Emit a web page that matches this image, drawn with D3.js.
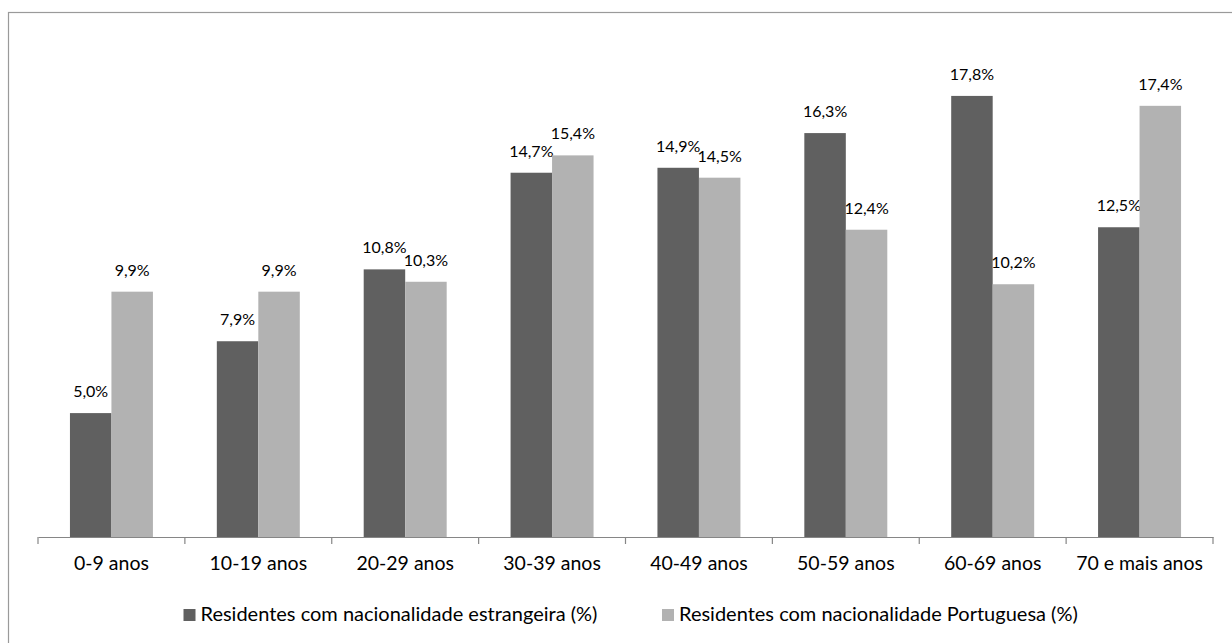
<!DOCTYPE html>
<html>
<head>
<meta charset="utf-8">
<script src="https://cdn.jsdelivr.net/npm/d3@7"></script>
<style>
  html, body { margin: 0; padding: 0; background: #fff; }
  svg { display: block; }
  text { font-family: Lato, "Open Sans", sans-serif; fill: #000; }
</style>
</head>
<body>
<svg id="chart" width="1232" height="643"></svg>
<script>
// Age groups and the share of residents in each group, by nationality
const categories = ["0-9 anos", "10-19 anos", "20-29 anos", "30-39 anos",
                    "40-49 anos", "50-59 anos", "60-69 anos", "70 e mais anos"];
const seriesNames = ["Residentes com nacionalidade estrangeira (%)",
                     "Residentes com nacionalidade Portuguesa (%)"];
const estrangeira = [5.0, 7.9, 10.8, 14.7, 14.9, 16.3, 17.8, 12.5];
const portuguesa  = [9.9, 9.9, 10.3, 15.4, 14.5, 12.4, 10.2, 17.4];
const seriesColors = ["#606060", "#b2b2b2"];

const svg = d3.select("#chart");
const W = 1232, H = 643;
const plot = { left: 38, right: 1213, top: 41.4, bottom: 537 };

// Outer chart frame
svg.append("rect")
  .attr("x", 8.5).attr("y", 12.5)
  .attr("width", W + 20).attr("height", H + 20)
  .attr("fill", "none").attr("stroke", "#9a9a9a").attr("stroke-width", 1.2);

const x = d3.scaleBand().domain(categories).range([plot.left, plot.right]).padding(0);
const inner = d3.scaleBand().domain([0, 1]).range([0, x.bandwidth()])
  .paddingInner(0).paddingOuter(0.77);
const y = d3.scaleLinear().domain([0, 20]).range([plot.bottom, plot.top]);

const fmt = v => v.toFixed(1).replace(".", ",") + "%";

const series = [estrangeira, portuguesa];
series.forEach((vals, si) => {
  const g = svg.append("g");
  g.selectAll("rect").data(vals).join("rect")
    .attr("x", (d, i) => x(categories[i]) + inner(si))
    .attr("y", d => y(d))
    .attr("width", inner.bandwidth())
    .attr("height", d => y(0) - y(d))
    .attr("fill", seriesColors[si]);
  g.selectAll("text").data(vals).join("text")
    .attr("x", (d, i) => x(categories[i]) + inner(si) + inner.bandwidth() / 2)
    .attr("y", d => y(d) - 16)
    .attr("text-anchor", "middle")
    .attr("font-size", 16)
    .text(d => fmt(d));
});

// Category axis with tick marks on the group boundaries
const axis = svg.append("g").attr("transform", `translate(0,${plot.bottom})`)
  .call(d3.axisBottom(x).tickSize(0).tickPadding(19).tickSizeOuter(0));
axis.select(".domain").attr("stroke", "#868686").attr("stroke-width", 1.2);
axis.selectAll(".tick text").attr("font-size", 19.5).attr("font-family", "Lato, sans-serif").attr("fill", "#000");
const bounds = categories.map(c => x(c)).concat([x(categories[categories.length - 1]) + x.bandwidth()]);
axis.selectAll(".bound").data(bounds).join("line").attr("class", "bound")
  .attr("x1", d => d).attr("x2", d => d)
  .attr("y1", 0).attr("y2", 7)
  .attr("stroke", "#868686").attr("stroke-width", 1.2);

// Legend
const legendItems = [{ x: 183.5, name: seriesNames[0], color: seriesColors[0] },
                     { x: 662, name: seriesNames[1], color: seriesColors[1] }];
const lg = svg.append("g");
legendItems.forEach(it => {
  lg.append("rect").attr("x", it.x).attr("y", 609).attr("width", 12).attr("height", 12).attr("fill", it.color);
  lg.append("text").attr("x", it.x + 17).attr("y", 621).attr("font-size", 20).text(it.name);
});
</script>
</body>
</html>
